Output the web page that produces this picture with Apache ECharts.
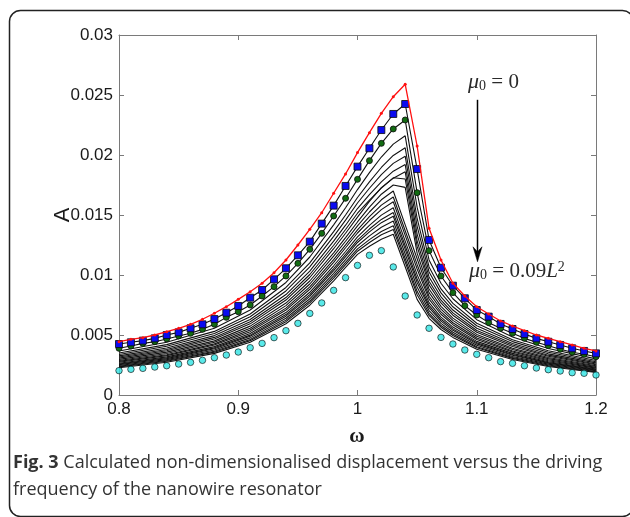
<!DOCTYPE html>
<html>
<head>
<meta charset="utf-8">
<script src="https://cdn.jsdelivr.net/npm/echarts@6/dist/echarts.min.js"></script>
<style>
html,body{margin:0;padding:0;background:#fff;}
#chart{width:630px;height:517px;}
</style>
</head>
<body>
<div id="chart"></div>
<script>
// ---- data ----
const omega = [0.80,0.81,0.82,0.83,0.84,0.85,0.86,0.87,0.88,0.89,0.90,0.91,0.92,0.93,0.94,0.95,0.96,0.97,0.98,0.99,1.00,
               1.01,1.02,1.03,1.04,1.05,1.06,1.07,1.08,1.09,1.10,1.11,1.12,1.13,1.14,1.15,1.16,1.17,1.18,1.19,1.20];
const ampRed = [0.00444,0.00464,0.00478,0.00500,0.00528,0.00556,0.00589,0.00631,0.00681,0.00736,0.00797,0.00861,0.00931,0.01019,0.01125,0.01250,0.01381,0.01519,0.01681,0.01842,0.02020,
                0.02186,0.02347,0.02486,0.02589,0.02075,0.01389,0.01125,0.00931,0.00825,0.00736,0.00675,0.00617,0.00575,0.00536,0.00500,0.00472,0.00444,0.00417,0.00389,0.00367];
const ampBlue = [0.00425,0.00439,0.00453,0.00472,0.00500,0.00522,0.00556,0.00589,0.00633,0.00686,0.00742,0.00811,0.00875,0.00964,0.01056,0.01164,0.01278,0.01428,0.01578,0.01742,0.01903,
                 0.02056,0.02208,0.02342,0.02425,0.01883,0.01292,0.01061,0.00911,0.00806,0.00708,0.00653,0.00592,0.00550,0.00508,0.00472,0.00444,0.00417,0.00389,0.00367,0.00347];
const ampGreen = [0.00389,0.00408,0.00430,0.00444,0.00467,0.00492,0.00514,0.00547,0.00589,0.00647,0.00694,0.00750,0.00825,0.00903,0.00992,0.01097,0.01214,0.01347,0.01492,0.01639,0.01797,
                  0.01953,0.02097,0.02217,0.02292,0.01686,0.01203,0.00992,0.00853,0.00744,0.00667,0.00603,0.00556,0.00514,0.00472,0.00439,0.00411,0.00381,0.00356,0.00339,0.00319];
const ampCyan = [0.00203,0.00214,0.00222,0.00233,0.00244,0.00258,0.00272,0.00289,0.00311,0.00333,0.00358,0.00394,0.00430,0.00478,0.00536,0.00597,0.00680,0.00767,0.00872,0.00978,0.01080,
                 0.01164,0.01203,0.01067,0.00825,0.00667,0.00556,0.00480,0.00425,0.00375,0.00339,0.00311,0.00278,0.00264,0.00244,0.00225,0.00211,0.00200,0.00186,0.00181,0.00167];

// black intermediate curves (lines only), sampled at these frequencies
const omegaB = [0.80,0.84,0.88,0.91,0.94,0.96,0.98,0.99,1.00,1.01,1.02,1.03,1.04,1.05,1.06,1.07,1.08,1.10,1.13,1.16,1.20];
const black01 = [0.00367,0.00440,0.00556,0.00708,0.00938,0.01150,0.01418,0.01560,0.01712,0.01853,0.01983,0.02091,0.02160,0.01565,0.01126,0.00931,0.00802,0.00628,0.00484,0.00387,0.00301];
const black02 = [0.00350,0.00420,0.00530,0.00675,0.00896,0.01101,0.01361,0.01500,0.01646,0.01776,0.01896,0.01996,0.02060,0.01471,0.01067,0.00884,0.00763,0.00598,0.00461,0.00369,0.00287];
const black03 = [0.00338,0.00406,0.00513,0.00652,0.00867,0.01067,0.01322,0.01457,0.01600,0.01723,0.01836,0.01930,0.01990,0.01406,0.01025,0.00851,0.00735,0.00577,0.00445,0.00356,0.00277];
const black04 = [0.00326,0.00391,0.00495,0.00629,0.00837,0.01033,0.01282,0.01415,0.01554,0.01669,0.01776,0.01865,0.01920,0.01341,0.00984,0.00818,0.00708,0.00556,0.00429,0.00343,0.00268];
const black05 = [0.00316,0.00379,0.00480,0.00610,0.00812,0.01004,0.01248,0.01379,0.01515,0.01624,0.01724,0.01807,0.01860,0.01285,0.00948,0.00790,0.00684,0.00538,0.00416,0.00332,0.00259];
const black06 = [0.00307,0.00369,0.00467,0.00593,0.00791,0.00979,0.01219,0.01348,0.01482,0.01613,0.01728,0.01810,0.01800,0.01238,0.00918,0.00767,0.00665,0.00523,0.00404,0.00323,0.00252];
const black07 = [0.00297,0.00357,0.00451,0.00574,0.00766,0.00950,0.01185,0.01312,0.01442,0.01565,0.01673,0.01750,0.01730,0.01182,0.00883,0.00739,0.00641,0.00505,0.00390,0.00312,0.00244];
const black08 = [0.00288,0.00346,0.00439,0.00557,0.00745,0.00925,0.01157,0.01281,0.01409,0.01525,0.01627,0.01700,0.01418,0.01135,0.00853,0.00715,0.00622,0.00490,0.00379,0.00303,0.00237];
const black09 = [0.00280,0.00336,0.00426,0.00541,0.00724,0.00901,0.01128,0.01251,0.01376,0.01486,0.01582,0.01650,0.01369,0.01088,0.00823,0.00692,0.00602,0.00475,0.00367,0.00294,0.00230];
const black10 = [0.00273,0.00328,0.00416,0.00528,0.00708,0.00881,0.01105,0.01227,0.01350,0.01454,0.01545,0.01610,0.01330,0.01050,0.00799,0.00673,0.00586,0.00462,0.00358,0.00286,0.00224];
const black11 = [0.00264,0.00318,0.00403,0.00512,0.00687,0.00856,0.01077,0.01196,0.01317,0.01414,0.01499,0.01560,0.01282,0.01003,0.00770,0.00649,0.00566,0.00447,0.00347,0.00277,0.00217];
const black12 = [0.00258,0.00310,0.00393,0.00499,0.00670,0.00837,0.01054,0.01172,0.01291,0.01383,0.01463,0.01520,0.01244,0.00967,0.00746,0.00631,0.00551,0.00435,0.00338,0.00270,0.00212];
const black13 = [0.00253,0.00303,0.00385,0.00489,0.00657,0.00822,0.01037,0.01154,0.01271,0.01359,0.01436,0.01490,0.01214,0.00938,0.00728,0.00616,0.00539,0.00426,0.00331,0.00264,0.00207];
const black14 = [0.00246,0.00295,0.00375,0.00476,0.00640,0.00802,0.01014,0.01129,0.01244,0.01326,0.01398,0.01450,0.01175,0.00900,0.00704,0.00597,0.00523,0.00414,0.00321,0.00257,0.00202];
const black15 = [0.00239,0.00287,0.00365,0.00463,0.00624,0.00783,0.00992,0.01106,0.01218,0.01295,0.01362,0.01410,0.01137,0.00864,0.00681,0.00579,0.00508,0.00402,0.00312,0.00250,0.00196];
const black16 = [0.00234,0.00281,0.00357,0.00453,0.00611,0.00768,0.00974,0.01087,0.01198,0.01271,0.01335,0.01380,0.01108,0.00835,0.00663,0.00565,0.00496,0.00393,0.00305,0.00244,0.00192];
const black17 = [0.00227,0.00273,0.00347,0.00440,0.00594,0.00748,0.00951,0.01063,0.01172,0.01239,0.01298,0.01340,0.01069,0.00797,0.00639,0.00546,0.00480,0.00381,0.00296,0.00237,0.00187];

const arrowOmega = 1.1;
const arrowFrom = 0.0246;
const arrowTo = 0.0111;

// ---- build chart ----
const blackCurves = [black01,black02,black03,black04,black05,black06,black07,black08,black09,
                     black10,black11,black12,black13,black14,black15,black16,black17];
const pairs = (xs, ys) => xs.map((x, i) => [x, ys[i]]);

const labelFont = {fontFamily:'Liberation Sans, Arial, sans-serif', fontSize:17, color:'#1a1a1a'};
const axisCol = '#7a7a7a';
const serif = 'Liberation Serif, Times New Roman, serif';

const series = [];
blackCurves.forEach(ys => series.push({
  type:'line', data:pairs(omegaB, ys), symbol:'none', showSymbol:false, silent:true, z:2,
  lineStyle:{color:'#121212', width:1.1}
}));
series.push({
  type:'scatter', data:pairs(omega, ampCyan), symbol:'circle', symbolSize:6.5, z:3, silent:true,
  itemStyle:{color:'#30e4e4', borderColor:'#0a0a0a', borderWidth:0.8}
});
series.push({
  type:'line', data:pairs(omega, ampGreen), symbol:'circle', symbolSize:6, showSymbol:true, z:4, silent:true,
  lineStyle:{color:'#111', width:1.1},
  itemStyle:{color:'#126b12', borderColor:'#0a0a0a', borderWidth:0.8}
});
series.push({
  type:'line', data:pairs(omega, ampBlue), symbol:'rect', symbolSize:7, showSymbol:true, z:5, silent:true,
  lineStyle:{color:'#111', width:1.1},
  itemStyle:{color:'#0b0bf0', borderColor:'#0a0a0a', borderWidth:0.8}
});
series.push({
  type:'line', data:pairs(omega, ampRed), symbol:'circle', symbolSize:3, showSymbol:true, z:6, silent:true,
  lineStyle:{color:'#ff1010', width:1.3},
  itemStyle:{color:'#ff1010'}
});

const muRich = {
  m:{fontStyle:'italic', fontSize:22, lineHeight:22, fontFamily:serif, fill:'#2a2a2a'},
  s:{fontSize:14, lineHeight:12, verticalAlign:'bottom', fontFamily:serif, fill:'#2a2a2a'},
  t:{fontSize:21, lineHeight:22, fontFamily:serif, fill:'#2a2a2a'},
  l:{fontStyle:'italic', fontSize:21, lineHeight:22, fontFamily:serif, fill:'#2a2a2a'},
  p:{fontSize:14, lineHeight:12, verticalAlign:'top', fontFamily:serif, fill:'#2a2a2a'}
};

const chart = echarts.init(document.getElementById('chart'), null, {renderer:'canvas'});
chart.setOption({
  animation:false,
  backgroundColor:'#fff',
  grid:{left:119, right:34, top:35, bottom:122, containLabel:false, show:false},
  xAxis:[
    {type:'value', min:0.8, max:1.2, interval:0.1, position:'bottom',
     axisLine:{show:true, onZero:false, lineStyle:{color:axisCol, width:1}},
     axisTick:{show:true, inside:true, length:5, lineStyle:{color:axisCol}},
     axisLabel:Object.assign({margin:6}, labelFont),
     splitLine:{show:false}},
    {type:'value', min:0.8, max:1.2, interval:0.1, position:'top',
     axisLine:{show:true, onZero:false, lineStyle:{color:axisCol, width:1}},
     axisTick:{show:true, inside:true, length:5, lineStyle:{color:axisCol}},
     axisLabel:{show:false}, splitLine:{show:false}}
  ],
  yAxis:[
    {type:'value', min:0, max:0.03, interval:0.005, position:'left',
     axisLine:{show:true, onZero:false, lineStyle:{color:axisCol, width:1}},
     axisTick:{show:true, inside:true, length:5, lineStyle:{color:axisCol}},
     axisLabel:Object.assign({margin:6}, labelFont),
     splitLine:{show:false}},
    {type:'value', min:0, max:0.03, interval:0.005, position:'right',
     axisLine:{show:true, onZero:false, lineStyle:{color:axisCol, width:1}},
     axisTick:{show:true, inside:true, length:5, lineStyle:{color:axisCol}},
     axisLabel:{show:false}, splitLine:{show:false}}
  ],
  series:series
});

// arrow and annotations, positioned from data coordinates
const pFrom = chart.convertToPixel({xAxisIndex:0, yAxisIndex:0}, [arrowOmega, arrowFrom]);
const pTo = chart.convertToPixel({xAxisIndex:0, yAxisIndex:0}, [arrowOmega, arrowTo]);
const ax = Math.round(pFrom[0]) + 0.5;

chart.setOption({
  graphic:[
    {type:'rect', shape:{x:9.5, y:10.5, width:624, height:506, r:11}, silent:true, z:-1,
     style:{fill:'none', stroke:'#222', lineWidth:1.5}},
    {type:'line', shape:{x1:ax, y1:pFrom[1], x2:ax, y2:pTo[1]-8}, silent:true, z:20,
     style:{stroke:'#000', lineWidth:1.5}},
    {type:'polygon', shape:{points:[[ax, pTo[1]], [ax-4.5, pTo[1]-15], [ax, pTo[1]-10], [ax+4.5, pTo[1]-15]]}, silent:true, z:20,
     style:{fill:'#000', stroke:'#000', lineWidth:0.5}},
    {type:'text', x:63, y:215, rotation:Math.PI/2, silent:true,
     style:{text:'A', fontFamily:'Liberation Sans, Arial, sans-serif', fontSize:22, fill:'#1a1a1a', align:'center', verticalAlign:'middle'}},
    {type:'text', x:357, y:437, silent:true,
     style:{text:'ω', fontFamily:serif, fontSize:21, fontWeight:'bold', fill:'#1a1a1a', align:'center', verticalAlign:'middle'}},
    {type:'text', x:468, y:82, silent:true,
     style:{text:'{m|μ}{s|0}{t| = 0}', align:'left', verticalAlign:'middle',
       fontFamily:serif, fontSize:21, fill:'#2a2a2a', rich:muRich}},
    {type:'text', x:469, y:271, silent:true,
     style:{text:'{m|μ}{s|0}{t| = 0.09}{l|L}{p|2}', align:'left', verticalAlign:'middle',
       fontFamily:serif, fontSize:21, fill:'#2a2a2a', rich:muRich}},
    {type:'text', x:13, y:463, silent:true,
     style:{text:'{b|Fig. 3} Calculated non-dimensionalised displacement versus the driving', align:'left', verticalAlign:'middle',
       fontFamily:'Open Sans, Noto Sans, sans-serif', fontSize:18, fill:'#333',
       rich:{b:{fontWeight:'bold', fontFamily:'Open Sans, Noto Sans, sans-serif', fontSize:18, fill:'#333'}}}},
    {type:'text', x:13, y:490, silent:true,
     style:{text:'frequency of the nanowire resonator', align:'left', verticalAlign:'middle',
       fontFamily:'Open Sans, Noto Sans, sans-serif', fontSize:18, fill:'#333'}}
  ]
});
</script>
</body>
</html>
